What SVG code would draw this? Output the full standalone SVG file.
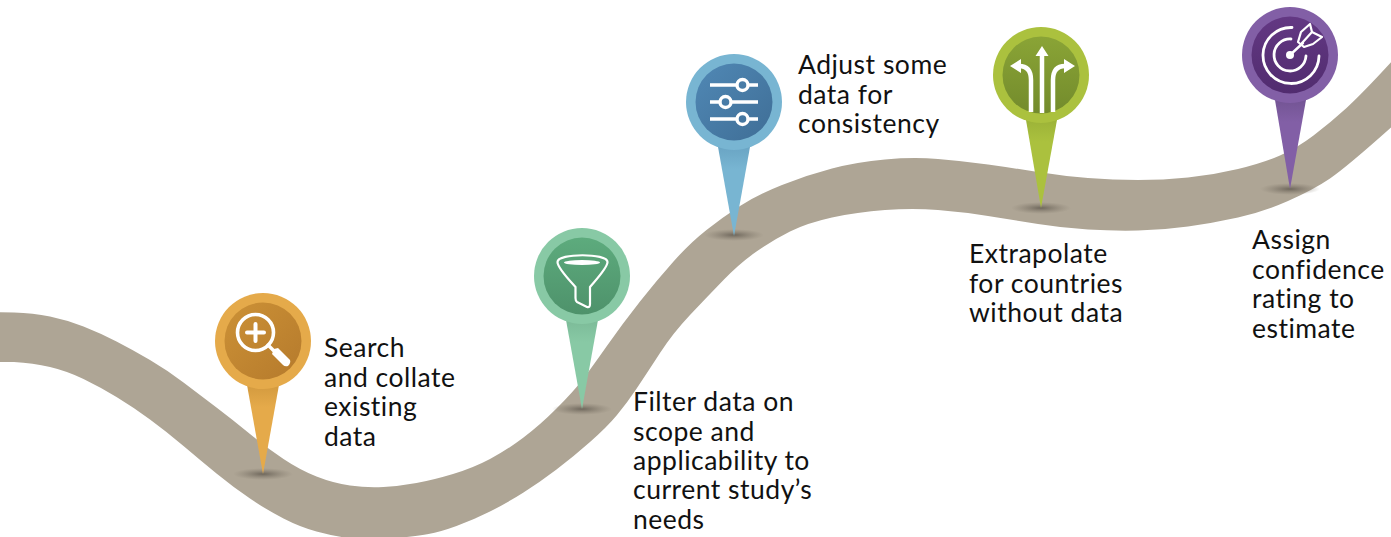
<svg xmlns="http://www.w3.org/2000/svg" width="1391" height="537" viewBox="0 0 1391 537">
<style>
.t{font-family:"Lato","Noto Sans",sans-serif;font-size:26.5px;fill:#111;letter-spacing:.5px}
.w{fill:none;stroke:#fff;stroke-width:3.4;stroke-linecap:round;stroke-linejoin:round}
.f{fill:#fff;stroke:none}
</style>
<defs>
<radialGradient id="sh"><stop offset="0" stop-color="#5f584e" stop-opacity=".8"/><stop offset=".5" stop-color="#6f675b" stop-opacity=".4"/><stop offset="1" stop-color="#7f7668" stop-opacity="0"/></radialGradient>
<linearGradient id="c1" x1="0" y1="0" x2="0" y2="1"><stop offset="0" stop-color="#d39a3f"/><stop offset=".25" stop-color="#e5aa4a"/></linearGradient>
<linearGradient id="i1" x1="0" y1="0" x2="1" y2="1"><stop offset="0" stop-color="#cc9136"/><stop offset="1" stop-color="#b57a2c"/></linearGradient>
<linearGradient id="c2" x1="0" y1="0" x2="0" y2="1"><stop offset="0" stop-color="#7cbb98"/><stop offset=".25" stop-color="#88c9a5"/></linearGradient>
<linearGradient id="i2" x1="0" y1="0" x2="0" y2="1"><stop offset="0" stop-color="#5dab7d"/><stop offset="1" stop-color="#4e926b"/></linearGradient>
<linearGradient id="c3" x1="0" y1="0" x2="0" y2="1"><stop offset="0" stop-color="#6aa5c4"/><stop offset=".25" stop-color="#78b5d2"/></linearGradient>
<linearGradient id="i3" x1="0" y1="0" x2="1" y2="1"><stop offset="0" stop-color="#5088b5"/><stop offset="1" stop-color="#3f6e96"/></linearGradient>
<linearGradient id="c4" x1="0" y1="0" x2="0" y2="1"><stop offset="0" stop-color="#9cb338"/><stop offset=".25" stop-color="#abc13e"/></linearGradient>
<linearGradient id="i4" x1="0" y1="0" x2="0" y2="1"><stop offset="0" stop-color="#8aa436"/><stop offset="1" stop-color="#738b2c"/></linearGradient>
<linearGradient id="c5" x1="0" y1="0" x2="0" y2="1"><stop offset="0" stop-color="#735494"/><stop offset=".25" stop-color="#825fa6"/></linearGradient>
<linearGradient id="i5" x1="0" y1="0" x2="0" y2="1"><stop offset="0" stop-color="#633883"/><stop offset="1" stop-color="#512c6f"/></linearGradient>
</defs>
<rect width="1391" height="537" fill="#fff"/>
<g id="connectors">
<path id="road" fill="#aea595" d="M-5 312L14 312.500Q33 313 50 316.500Q67 320 83.500 326.500Q100 333 116.500 341.500Q133 350 150 360Q167 370 183.500 382.500Q200 395 216.500 407.500Q233 420 250 434Q267 448 283.500 459Q300 470 316.500 476.500Q333 483 350 485.500Q367 488 383.500 487Q400 486 416.500 483Q433 480 453 474Q473 468 490 459Q507 450 523.500 437.500Q540 425 556.500 408.500Q573 392 581.500 381Q590 370 606.500 346.500Q623 323 640 301.500Q657 280 673.500 261.500Q690 243 706.500 230Q723 217 740 206Q757 195 782 185Q807 175 832 168.500Q857 162 885 159.500Q913 157 938 159Q963 161 988 164.500Q1013 168 1038 172Q1063 176 1088 178Q1113 180 1138 180Q1163 180 1188 177.500Q1213 175 1238 169Q1263 163 1280 155.500Q1297 148 1313.500 135.500Q1330 123 1346.500 108Q1363 93 1395 58L1395 124Q1347 167 1330 178.500Q1313 190 1288 201Q1263 212 1238 217.500Q1213 223 1188 226.500Q1163 230 1138 230.500Q1113 231 1088 229.500Q1063 228 1038 224Q1013 220 988 216Q963 212 938 210Q913 208 885 210Q857 212 832 217.500Q807 223 790 231.500Q773 240 756.500 251.500Q740 263 723.500 280Q707 297 690 315Q673 333 660 353Q647 373 637 388Q627 403 617 415Q607 427 590 442Q573 457 556.500 469.500Q540 482 523.500 492.500Q507 503 490 511.500Q473 520 456.500 526Q440 532 428.500 534Q417 536 393.500 538.500Q370 541 351.500 538.500Q333 536 316.500 531.500Q300 527 283.500 518.500Q267 510 250 498.500Q233 487 216.500 473.500Q200 460 183.500 446Q167 432 150 419.500Q133 407 116.500 397Q100 387 83.500 379Q67 371 50 367Q33 363 14 362L-5 362Z"/>
</g>
<g id="n1">
<ellipse cx="263" cy="474" rx="30" ry="6" fill="url(#sh)"/>
<path d="M247 385H279L263 474Z" fill="url(#c1)"/>
<circle cx="263" cy="341" r="48" fill="#e5aa4a"/><circle cx="263" cy="341" r="38.5" fill="url(#i1)"/>
<circle cx="255.500" cy="332.500" r="18" class="w" style="stroke-width:3.600"/>
<path d="M247 332.500H264M255.500 324V341" class="w" style="stroke-width:4"/>
<path d="M268 345L274 351" class="w"/>
<path d="M274 349L278 348L290 360Q291 363 288 366Q285 367 283 365L272 354Z" class="f"/>
<text class="t" x="324" y="357">Search</text><text class="t" x="324" y="387">and collate</text><text class="t" x="324" y="416">existing</text><text class="t" x="324" y="446">data</text>
</g>
<g id="n2">
<ellipse cx="582" cy="409" rx="30" ry="6" fill="url(#sh)"/>
<path d="M566 320H598L582 409Z" fill="url(#c2)"/>
<circle cx="582" cy="276" r="48" fill="#88c9a5"/><circle cx="582" cy="276" r="38.5" fill="url(#i2)"/>
<path d="M557.500 262C557.500 253 607.500 253 607.500 262C607.500 268 594 282 590 287V304Q590 308 587 307L577 302Q575.500 301 575.500 298V287C571 282 557.500 268 557.500 262Z" class="w" style="stroke-width:2.200"/>
<ellipse cx="582" cy="262.500" rx="18" ry="2.500" class="f"/>
<text class="t" x="633" y="411">Filter data on</text><text class="t" x="633" y="441">scope and</text><text class="t" x="633" y="470">applicability to</text><text class="t" x="633" y="499">current study’s</text><text class="t" x="633" y="529">needs</text>
</g>
<g id="n3">
<ellipse cx="734" cy="235" rx="30" ry="6" fill="url(#sh)"/>
<path d="M718 147H750L734 236Z" fill="url(#c3)"/>
<circle cx="734" cy="102" r="48" fill="#78b5d2"/><circle cx="734" cy="102" r="38.5" fill="url(#i3)"/>
<path d="M710 85H736M749 85H758M710 102H719M732 102H758M710 119H736M749 119H758" class="w" style="stroke-linecap:butt"/>
<circle cx="742.500" cy="85" r="5.500" class="w"/><circle cx="725.500" cy="102" r="5.500" class="w"/><circle cx="742.500" cy="119" r="5.500" class="w"/>
<text class="t" x="798" y="74">Adjust some</text><text class="t" x="798" y="104">data for</text><text class="t" x="798" y="133">consistency</text>
</g>
<g id="n4">
<ellipse cx="1041" cy="208" rx="30" ry="6" fill="url(#sh)"/>
<path d="M1026 120H1057L1041 208Z" fill="url(#c4)"/>
<circle cx="1041" cy="75" r="48" fill="#abc13e"/><circle cx="1041" cy="75" r="38.5" fill="url(#i4)"/>
<path d="M1042 113V54M1031 112V80Q1031 66 1019 66M1053 112V80Q1053 66 1065 66" fill="none" stroke="#fff" stroke-width="4.500"/>
<path d="M1042 46L1048.500 56H1035.500ZM1010 66L1021 59V73ZM1075 66L1064 59V73Z" class="f"/>
<text class="t" x="969" y="263">Extrapolate</text><text class="t" x="969" y="293">for countries</text><text class="t" x="969" y="322">without data</text>
</g>
<g id="n5">
<ellipse cx="1290" cy="189" rx="30" ry="6" fill="url(#sh)"/>
<path d="M1275 100H1306L1290 189Z" fill="url(#c5)"/>
<circle cx="1290" cy="55" r="48" fill="#825fa6"/><circle cx="1290" cy="55" r="38.5" fill="url(#i5)"/>
<path d="M1292 27.500A28 28 0 1 0 1319 56" class="w" style="stroke-width:2.800"/>
<path d="M1291 39A16 16 0 1 0 1306 56" class="w" style="stroke-width:2.800"/>
<circle cx="1290" cy="55" r="4" class="f"/>
<path d="M1290 55L1303 43" class="w" style="stroke-width:2.400"/>
<path d="M1298 42L1301 32L1310 24L1312 32L1322 37L1313 44L1304 47ZM1302 43L1312 32" class="w" style="stroke-width:2.200"/>
<text class="t" x="1252" y="249">Assign</text><text class="t" x="1252" y="279">confidence</text><text class="t" x="1252" y="308">rating to</text><text class="t" x="1252" y="338">estimate</text>
</g>
</svg>
